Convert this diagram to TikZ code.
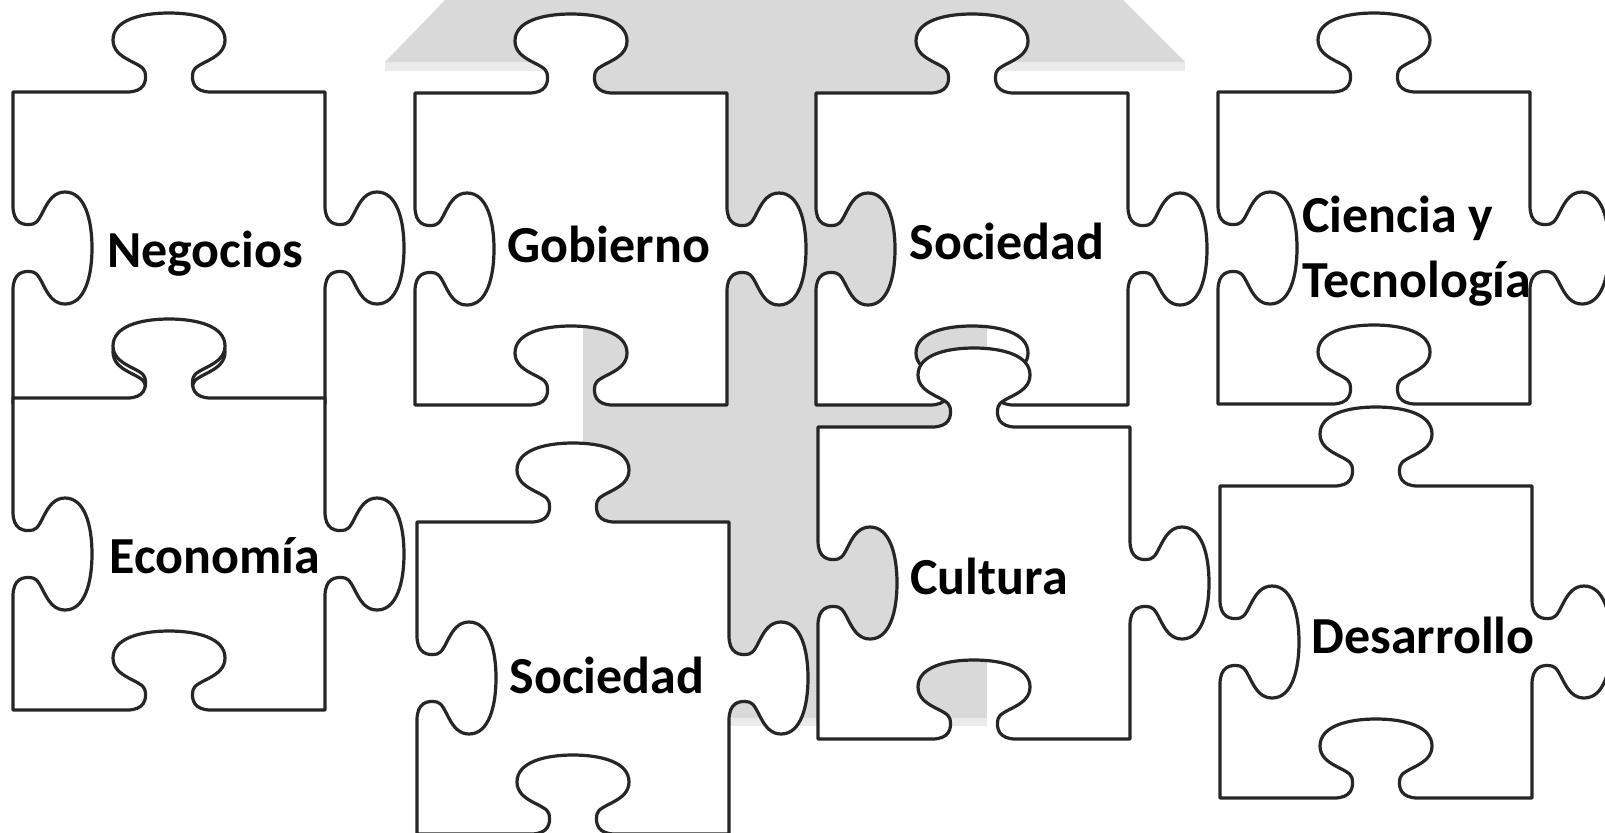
\documentclass[tikz,border=0pt]{standalone}
\usepackage{fontspec}
\setmainfont{Carlito}
\usepackage{tikz}
\usetikzlibrary{positioning}
\usepackage{xcolor}
\definecolor{arrowgray}{HTML}{D9D9D9}
\definecolor{shadegray}{HTML}{EBEBEB}

\tikzset{
  pics/piece/.style={code={
    \draw[pieceline]
      (0,0) -- (114,0)
      .. controls (131,0) and (134,-10) .. (132,-20)
      .. controls (130,-30) and (100,-32) .. (100,-52)
      .. controls (100,-72) and (128,-79) .. (156,-79)
      .. controls (184,-79) and (212,-72) .. (212,-52)
      .. controls (212,-32) and (182,-30) .. (180,-20)
      .. controls (178,-10) and (181,0) .. (198,0)
      -- (312,0) -- (312,114)
      .. controls (312,131) and (322,134) .. (332,132)
      .. controls (342,130) and (344,100) .. (364,100)
      .. controls (384,100) and (391,128) .. (391,156)
      .. controls (391,184) and (384,212) .. (364,212)
      .. controls (344,212) and (342,182) .. (332,180)
      .. controls (322,178) and (312,181) .. (312,198)
      -- (312,312) -- (198,312)
      .. controls (181,312) and (178,302) .. (180,292)
      .. controls (182,282) and (212,280) .. (212,260)
      .. controls (212,240) and (184,233) .. (156,233)
      .. controls (128,233) and (100,240) .. (100,260)
      .. controls (100,280) and (130,282) .. (132,292)
      .. controls (134,302) and (131,312) .. (114,312)
      -- (0,312) -- (0,198)
      .. controls (0,181) and (10,178) .. (20,180)
      .. controls (30,182) and (32,212) .. (52,212)
      .. controls (72,212) and (79,184) .. (79,156)
      .. controls (79,128) and (72,100) .. (52,100)
      .. controls (32,100) and (30,130) .. (20,132)
      .. controls (10,134) and (0,131) .. (0,114)
      -- cycle;
  }}
}

\begin{document}
\begin{tikzpicture}[
  x=0.5pt, y=-0.5pt,
  pieceline/.style={draw=black!85, line width=1.6pt, fill=white, line join=round},
  lbl/.style={font=\fontsize{26}{32.5}\selectfont\bfseries, inner sep=0pt, anchor=base}
]
\useasboundingbox (0,0) rectangle (1605,832);
\clip (0,0) rectangle (1605,832);

% grey arrow behind the puzzle
\fill[shadegray] (385,62) rectangle (583,71);
\fill[shadegray] (987,62) rectangle (1185,71);
\fill[shadegray] (583,718) rectangle (987,726);
\fill[arrowgray] (385,62) -- (447,-2) -- (1121,-2) -- (1185,62) -- (987,62)
  -- (987,718) -- (583,718) -- (583,62) -- cycle;

% pieces
\pic at (13,92) {piece};
\pic at (13,398) {piece};
\pic at (415,93) {piece};
\pic at (417,522) {piece};
\pic at (816,93) {piece};
\pic at (818,427) {piece};
\pic at (1218,92) {piece};
\pic at (1220,486) {piece};

% labels
\node[lbl] (negocios) at (205,267) {Negocios};
\node[lbl] (economia) at (215,573) {Economía};
\node[lbl] (gobierno) at (609,262) {Gobierno};
\node[lbl] (sociedad2) at (607,693) {Sociedad};
\node[lbl] (sociedad3) at (1007,259) {Sociedad};
\node[lbl] (cultura) at (989,594) {Cultura};
\node[lbl, anchor=base west, align=left] (ciencia) at (1302,297) {Ciencia y\\Tecnología};
\node[lbl] (desarrollo) at (1423,653) {Desarrollo};
\end{tikzpicture}
\end{document}
